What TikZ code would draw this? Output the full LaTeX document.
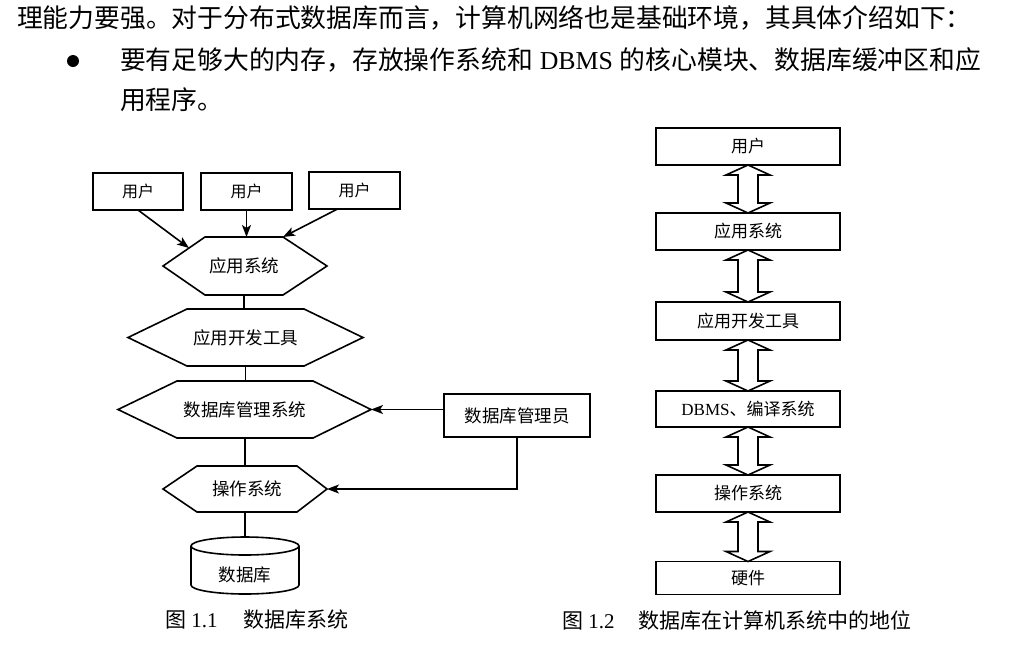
\documentclass[tikz,border=0pt]{standalone}
\usepackage{fontspec}
\setmainfont{Liberation Serif}
\newfontfamily\cjk{Noto Sans CJK SC}
\usetikzlibrary{arrows.meta,calc}
\tikzset{
  every node/.style={inner sep=0pt, outer sep=0pt},
  ln/.style={line width=1.6pt},
  arr/.style={ln, -{Stealth[length=12pt,width=9pt,inset=3pt]}},
  box/.style={draw, ln, font=\cjk\fontsize{16}{18}\selectfont},
  rbox/.style={draw, ln, minimum width=184pt, font=\cjk\fontsize{17}{20}\selectfont},
  txt/.style={font=\cjk\fontsize{17.5}{20}\selectfont},
  dbl/.style={draw, ln, line join=miter, fill=white},
  toptext/.style={anchor=west, font=\cjk\fontsize{25.8}{30}\selectfont},
  captxt/.style={anchor=west, font=\fontsize{21}{24}\selectfont},
}
% name, cx, cy, inner width, height, left tip, right tip, text
\newcommand{\hexnode}[8]{%
  \node[txt, minimum width=#4pt, minimum height=#5pt] (#1) at (#2,#3) {#8};
  \coordinate (#1l) at ($(#1.west)+(-#6,0)$);
  \coordinate (#1r) at ($(#1.east)+(#7,0)$);
  \draw[ln, line join=miter] (#1.north west) -- (#1.north east) -- (#1r) -- (#1.south east) -- (#1.south west) -- (#1l) -- cycle;
}
\newcommand{\dblarr}[2]{%
  \draw[dbl] (#1.south) -- ($(#1.south)+(22,10)$) -- ($(#1.south)+(10,10)$) -- ($(#2.north)+(10,-10)$) -- ($(#2.north)+(22,-10)$) -- (#2.north) -- ($(#2.north)+(-22,-10)$) -- ($(#2.north)+(-10,-10)$) -- ($(#1.south)+(-10,10)$) -- ($(#1.south)+(-22,10)$) -- cycle;
}
\begin{document}
\begin{tikzpicture}[x=1pt,y=-1pt]
\useasboundingbox[fill=white] (0,0) rectangle (1024,646);

% top text
\node[toptext] (l1) at (17,18) {理能力要强。对于分布式数据库而言，计算机网络也是基础环境，其具体介绍如下：};
\node[circle, fill=black, minimum size=12pt] (bul) at (73,61) {};
\node[toptext] (l2) at (120,60) {要有足够大的内存，存放操作系统和\hspace{7pt}{\rmfamily DBMS}\hspace{7pt}的核心模块、数据库缓冲区和应};
\node[toptext] (l3) at (120,100) {用程序。};

% left diagram
\node[box, minimum width=90pt, minimum height=37pt] (u1) at (138,191.5) {用户};
\node[box, minimum width=91pt, minimum height=37pt] (u2) at (246.5,191.5) {用户};
\node[box, minimum width=91pt, minimum height=37pt] (u3) at (354.5,190.5) {用户};

\hexnode{h1}{244}{266}{78}{58}{42}{44}{应用系统}
\hexnode{h2}{245.5}{337.5}{117}{57}{59}{59}{应用开发工具}
\hexnode{h3}{245}{409.5}{136}{57}{59}{58}{数据库管理系统}
\hexnode{h4}{247}{489}{100}{46}{34}{30}{操作系统}

\node[box, minimum width=146pt, minimum height=43pt, font=\cjk\fontsize{17.5}{20}\selectfont] (adm) at (517,415.5) {数据库管理员};

\node[txt, minimum width=108pt, minimum height=39pt] (db) at (245,574.5) {数据库};
\coordinate (dbtop) at ($(db.north)+(0,-18)$);
\draw[ln] ($(db.north)+(0,-9)$) ellipse [x radius=54pt, y radius=9pt];
\draw[ln] ($(db.north west)+(0,-9)$) -- ($(db.south west)+(0,-9)$) arc [start angle=180, end angle=360, x radius=54pt, y radius=9pt] -- ($(db.north east)+(0,-9)$);

\draw[arr] (u1.south) -- ($(h1l)!0.62!(h1.north west)$);
\draw[arr] (u2.south) -- (u2.south |- h1.north);
\draw[arr] ($(u3.south)+(-17,0)$) -- (h1.north east);
\draw[ln] (h1.south) -- (h1.south |- h2.north);
\draw[ln] (h2.south) -- (h2.south |- h3.north);
\draw[ln] (h3.south) -- (h3.south |- h4.north);
\draw[ln] (h3.south |- h4.south) -- (h3.south |- dbtop);
\draw[arr] (adm.west |- h3r) -- (h3r);
\draw[arr] (adm.south) |- (h4r);

\node[captxt] (c1) at (165,620) {{\cjk 图} 1.1\hspace{26pt}{\cjk 数据库系统}};

% right diagram
\node[rbox, minimum height=37pt] (r1) at (748,146.5) {用户};
\node[rbox, minimum height=37pt] (r2) at (748,231.5) {应用系统};
\node[rbox, minimum height=38pt] (r3) at (748,321) {应用开发工具};
\node[rbox, minimum height=36pt] (r4) at (748,409) {{\rmfamily DBMS}、编译系统};
\node[rbox, minimum height=37pt] (r5) at (748,493.5) {操作系统};
\node[rbox, minimum height=33pt] (r6) at (748,578) {硬件};

\dblarr{r1}{r2}
\dblarr{r2}{r3}
\dblarr{r3}{r4}
\dblarr{r4}{r5}
\dblarr{r5}{r6}

\node[captxt] (c2) at (562,620) {{\cjk 图} 1.2\hspace{24pt}{\cjk 数据库在计算机系统中的地位}};
\end{tikzpicture}
\end{document}
